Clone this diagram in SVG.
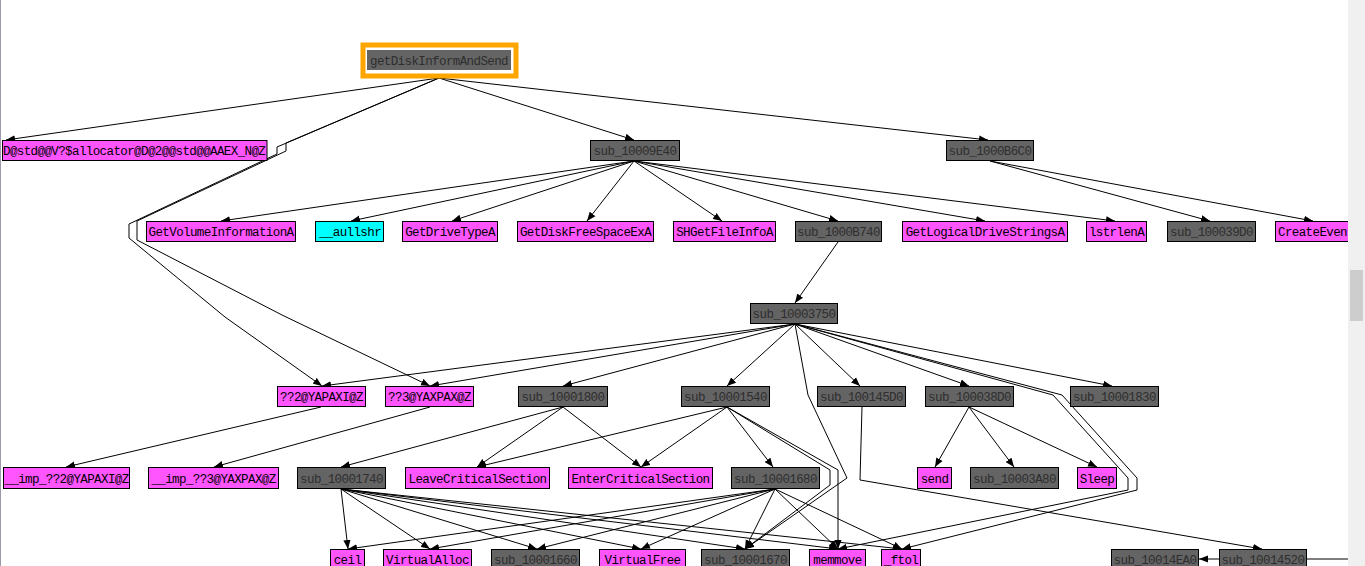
<svg xmlns="http://www.w3.org/2000/svg" width="1365" height="566" viewBox="0 0 1365 566">
<style>
.n rect{stroke:#000;stroke-width:1}
.g rect{fill:#646464}
.m rect{fill:#ff55ff}
.c rect{fill:#00ffff}
text{font-family:"Liberation Mono","DejaVu Sans Mono",monospace;font-size:12.5px;letter-spacing:-0.6px;text-anchor:middle}
.g text{fill:#2e2e2e}
.m text,.c text{fill:#000}
#edges path{fill:none;stroke:#000;stroke-width:1;marker-end:url(#ah)}
</style>
<defs>
<marker id="ah" viewBox="0 0 10 8" refX="10" refY="4" markerWidth="9" markerHeight="8" markerUnits="userSpaceOnUse" orient="auto">
<path d="M0,0 L10,4 L0,8 z" fill="#000"/>
</marker>
</defs>
<rect x="0" y="0" width="1365" height="566" fill="#fff"/>
<line x1="0.5" y1="0" x2="0.5" y2="566" stroke="#9a9aaa" stroke-width="1"/>

<g id="edges">
<path d="M439,78 L6,140"/>
<path d="M439,78 L634,140"/>
<path d="M439,78 L988,140"/>
<path d="M439,78 L277,147 L277,154 L129,224 L129,238 L225,317 L322,386"/>
<path d="M439,78 L286,143 L286,151 L137,221 L137,240 L282,315 L430,386"/>
<path d="M634,161 L221,221"/>
<path d="M634,161 L351,221"/>
<path d="M634,161 L452,221"/>
<path d="M634,161 L587,221"/>
<path d="M634,161 L722,221"/>
<path d="M634,161 L838,221"/>
<path d="M634,161 L985,221"/>
<path d="M634,161 L1115,221"/>
<path d="M990,161 L1210,221"/>
<path d="M990,161 L1313,221"/>
<path d="M838,242 L795,303"/>
<path d="M795,324 L322,386"/>
<path d="M795,324 L430,386"/>
<path d="M795,324 L563,386"/>
<path d="M795,324 L727,386"/>
<path d="M795,324 L860,386"/>
<path d="M795,324 L969,386"/>
<path d="M795,324 L1112,386"/>
<path d="M795,324 L808,395 L847,478 L745,549"/>
<path d="M795,324 L1053,395 L1128,478 L1128,490 L838,549"/>
<path d="M795,324 L1062,395 L1137,478 L1137,490 L902,549"/>
<path d="M563,407 L341,467"/>
<path d="M563,407 L477,467"/>
<path d="M563,407 L641,467"/>
<path d="M727,407 L477,467"/>
<path d="M727,407 L641,467"/>
<path d="M727,407 L773,467"/>
<path d="M727,407 L838,470 L838,549"/>
<path d="M727,407 L830,470 L830,485 L745,549"/>
<path d="M321,407 L66,467"/>
<path d="M430,407 L214,467"/>
<path d="M969,407 L935,467"/>
<path d="M969,407 L1014,467"/>
<path d="M969,407 L1097,467"/>
<path d="M862,407 L860,480 L1262,549"/>
<path d="M341,489 L348,549"/>
<path d="M341,489 L430,549"/>
<path d="M341,489 L537,549"/>
<path d="M341,489 L641,549"/>
<path d="M341,489 L745,549"/>
<path d="M341,489 L838,549"/>
<path d="M341,489 L902,549"/>
<path d="M775,489 L348,549"/>
<path d="M775,489 L430,549"/>
<path d="M775,489 L537,549"/>
<path d="M775,489 L641,549"/>
<path d="M775,489 L745,549"/>
<path d="M775,489 L838,549"/>
<path d="M775,489 L902,549"/>
<path d="M1219,559 L1199,559"/>
<line x1="1307" y1="559" x2="1348" y2="559" stroke="#000" stroke-width="1"/>
</g>

<g id="n_root" class="n g">
<rect x="363" y="45" width="153" height="31" style="fill:none;stroke:#ffa500;stroke-width:5"/>
<rect x="367" y="50" width="144" height="20" style="stroke:none"/>
<text x="439" y="64.5">getDiskInformAndSend</text>
</g>

<g id="n_dstd" class="n m"><rect x="2.5" y="140.5" width="264.5" height="20"/><text x="3" y="155" style="text-anchor:start">D@std@@V?$allocator@D@2@@std@@AAEX_N@Z</text></g>
<g id="n_9E40" class="n g"><rect x="590.5" y="140.5" width="89" height="20"/><text x="635" y="155">sub_10009E40</text></g>
<g id="n_B6C0" class="n g"><rect x="946.5" y="140.5" width="87" height="20"/><text x="990" y="155">sub_1000B6C0</text></g>

<g id="n_gvi" class="n m"><rect x="146.5" y="221.5" width="149" height="20"/><text x="221" y="236">GetVolumeInformationA</text></g>
<g id="n_aull" class="n c"><rect x="315.5" y="221.5" width="68" height="20"/><text x="350" y="236">__aullshr</text></g>
<g id="n_gdt" class="n m"><rect x="402.5" y="221.5" width="95" height="20"/><text x="450" y="236">GetDriveTypeA</text></g>
<g id="n_gdfs" class="n m"><rect x="517.5" y="221.5" width="136" height="20"/><text x="585.5" y="236">GetDiskFreeSpaceExA</text></g>
<g id="n_shg" class="n m"><rect x="673.5" y="221.5" width="102" height="20"/><text x="724.5" y="236">SHGetFileInfoA</text></g>
<g id="n_B740" class="n g"><rect x="795.5" y="221.5" width="86" height="20"/><text x="838.5" y="236">sub_1000B740</text></g>
<g id="n_glds" class="n m"><rect x="902.5" y="221.5" width="165" height="20"/><text x="985" y="236">GetLogicalDriveStringsA</text></g>
<g id="n_lstr" class="n m"><rect x="1086.5" y="221.5" width="60" height="20"/><text x="1116.5" y="236">lstrlenA</text></g>
<g id="n_39D0" class="n g"><rect x="1167.5" y="221.5" width="88" height="20"/><text x="1211.5" y="236">sub_100039D0</text></g>
<g id="n_cev" class="n m"><rect x="1275.5" y="221.5" width="90" height="20"/><text x="1278" y="236" style="text-anchor:start">CreateEventA</text></g>

<g id="n_3750" class="n g"><rect x="750.5" y="303.5" width="87" height="20"/><text x="794" y="318">sub_10003750</text></g>

<g id="n_q2" class="n m"><rect x="277.5" y="386.5" width="88" height="20"/><text x="321.5" y="401">??2@YAPAXI@Z</text></g>
<g id="n_q3" class="n m"><rect x="385.5" y="386.5" width="88" height="20"/><text x="429.5" y="401">??3@YAXPAX@Z</text></g>
<g id="n_1800" class="n g"><rect x="518.5" y="386.5" width="89" height="20"/><text x="563" y="401">sub_10001800</text></g>
<g id="n_1540" class="n g"><rect x="681.5" y="386.5" width="88" height="20"/><text x="725.5" y="401">sub_10001540</text></g>
<g id="n_145D0" class="n g"><rect x="817.5" y="386.5" width="88" height="20"/><text x="861.5" y="401">sub_100145D0</text></g>
<g id="n_38D0" class="n g"><rect x="925.5" y="386.5" width="88" height="20"/><text x="969.5" y="401">sub_100038D0</text></g>
<g id="n_1830" class="n g"><rect x="1070.5" y="386.5" width="88" height="20"/><text x="1114.5" y="401">sub_10001830</text></g>

<g id="n_iq2" class="n m"><rect x="3.5" y="467.5" width="126" height="21"/><text x="66.5" y="482.5">__imp_??2@YAPAXI@Z</text></g>
<g id="n_iq3" class="n m"><rect x="148.5" y="467.5" width="130" height="21"/><text x="213.5" y="482.5">__imp_??3@YAXPAX@Z</text></g>
<g id="n_1740" class="n g"><rect x="297.5" y="467.5" width="88" height="21"/><text x="341.5" y="482.5">sub_10001740</text></g>
<g id="n_lcs" class="n m"><rect x="405.5" y="467.5" width="144" height="21"/><text x="477.5" y="482.5">LeaveCriticalSection</text></g>
<g id="n_ecs" class="n m"><rect x="568.5" y="467.5" width="144" height="21"/><text x="640.5" y="482.5">EnterCriticalSection</text></g>
<g id="n_1680" class="n g"><rect x="731.5" y="467.5" width="88" height="21"/><text x="775.5" y="482.5">sub_10001680</text></g>
<g id="n_send" class="n m"><rect x="917.5" y="467.5" width="34" height="21"/><text x="934.5" y="482.5">send</text></g>
<g id="n_3A80" class="n g"><rect x="970.5" y="467.5" width="88" height="21"/><text x="1014.5" y="482.5">sub_10003A80</text></g>
<g id="n_sleep" class="n m"><rect x="1077.5" y="467.5" width="39" height="21"/><text x="1097" y="482.5">Sleep</text></g>

<g id="n_ceil" class="n m"><rect x="330.5" y="549.5" width="34" height="21"/><text x="347.5" y="564">ceil</text></g>
<g id="n_va" class="n m"><rect x="383.5" y="549.5" width="88" height="21"/><text x="427.5" y="564">VirtualAlloc</text></g>
<g id="n_1660" class="n g"><rect x="491.5" y="549.5" width="88" height="21"/><text x="535.5" y="564">sub_10001660</text></g>
<g id="n_vf" class="n m"><rect x="599.5" y="549.5" width="86" height="21"/><text x="642.5" y="564">VirtualFree</text></g>
<g id="n_1670" class="n g"><rect x="701.5" y="549.5" width="88" height="21"/><text x="745.5" y="564">sub_10001670</text></g>
<g id="n_memmove" class="n m"><rect x="809.5" y="549.5" width="56" height="21"/><text x="837.5" y="564">memmove</text></g>
<g id="n_ftol" class="n m"><rect x="881.5" y="549.5" width="39" height="21"/><text x="901" y="564">_ftol</text></g>
<g id="n_14EA0" class="n g"><rect x="1111.5" y="549.5" width="87" height="21"/><text x="1155" y="564">sub_10014EA0</text></g>
<g id="n_14520" class="n g"><rect x="1219.5" y="549.5" width="87" height="21"/><text x="1263" y="564">sub_10014520</text></g>

<rect x="1348" y="0" width="17" height="566" fill="#f0f0f0"/>
<rect x="1350" y="270" width="13" height="51" fill="#cdcdcd"/>
</svg>
